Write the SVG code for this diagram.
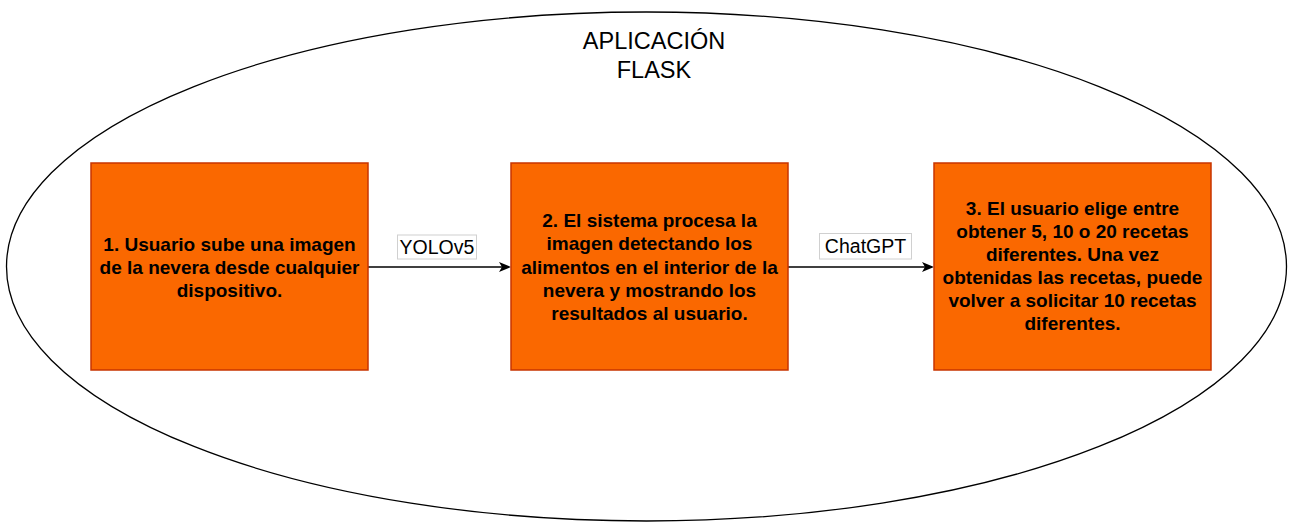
<svg xmlns="http://www.w3.org/2000/svg" width="1292" height="527" viewBox="0 0 1292 527">
<style>
.box{fill:#fa6800;stroke:#c73500;stroke-width:1.5}
.bt{font-family:"Liberation Sans",Arial,sans-serif;font-size:19px;font-weight:bold;fill:#000;text-anchor:middle}
.lbl{font-family:"Liberation Sans",Arial,sans-serif;font-size:19.5px;fill:#000;text-anchor:middle}
.lblbg{fill:#fff;stroke:#d0d0d0;stroke-width:1}
.edge{stroke:#000;stroke-width:1.6;fill:none}
</style>
<defs>
<marker id="arr" viewBox="0 0 10 10" refX="9" refY="5" markerWidth="7" markerHeight="7" markerUnits="userSpaceOnUse" orient="auto" overflow="visible">
<path d="M0,0 L10,5 L0,10 L2.5,5 Z" fill="#000" transform="scale(1.3) translate(-2,-1.15)"/>
</marker>
</defs>
<g id="app">
<ellipse cx="646.5" cy="266.5" rx="640" ry="254.5" fill="#fff" stroke="#000" stroke-width="1.3"/>
<text x="654" y="48.5" style="font-family:'Liberation Sans',Arial,sans-serif;font-size:23.5px;fill:#000;text-anchor:middle">APLICACIÓN</text>
<text x="654" y="77.5" style="font-family:'Liberation Sans',Arial,sans-serif;font-size:23.5px;fill:#000;text-anchor:middle">FLASK</text>
</g>
<g id="connectors">
<line class="edge" x1="368" y1="267" x2="509" y2="267"/>
<path d="M511,267 L499,262 L502,267 L499,272 Z" fill="#000"/>
<rect class="lblbg" x="397.5" y="235" width="79" height="24"/>
<text class="lbl" x="437" y="254">YOLOv5</text>
<line class="edge" x1="788" y1="267" x2="932" y2="267"/>
<path d="M934,267 L922,262 L925,267 L922,272 Z" fill="#000"/>
<rect class="lblbg" x="819.5" y="233.5" width="92" height="25.5"/>
<text class="lbl" x="865.5" y="253">ChatGPT</text>
</g>
<g id="node1">
<rect class="box" x="91" y="163" width="277" height="207"/>
<text class="bt" x="229.5" y="251">1. Usuario sube una imagen</text>
<text class="bt" x="229.5" y="274">de la nevera desde cualquier</text>
<text class="bt" x="229.5" y="297">dispositivo.</text>
</g>
<g id="node2">
<rect class="box" x="511" y="163" width="277" height="207"/>
<text class="bt" x="649.5" y="227">2. El sistema procesa la</text>
<text class="bt" x="649.5" y="250">imagen detectando los</text>
<text class="bt" x="649.5" y="273.5">alimentos en el interior de la</text>
<text class="bt" x="649.5" y="297">nevera y mostrando los</text>
<text class="bt" x="649.5" y="320">resultados al usuario.</text>
</g>
<g id="node3">
<rect class="box" x="934" y="163" width="277" height="207"/>
<text class="bt" x="1072.5" y="215">3. El usuario elige entre</text>
<text class="bt" x="1072.5" y="238">obtener 5, 10 o 20 recetas</text>
<text class="bt" x="1072.5" y="261">diferentes. Una vez</text>
<text class="bt" x="1072.5" y="284">obtenidas las recetas, puede</text>
<text class="bt" x="1072.5" y="307">volver a solicitar 10 recetas</text>
<text class="bt" x="1072.5" y="330">diferentes.</text>
</g>
</svg>
